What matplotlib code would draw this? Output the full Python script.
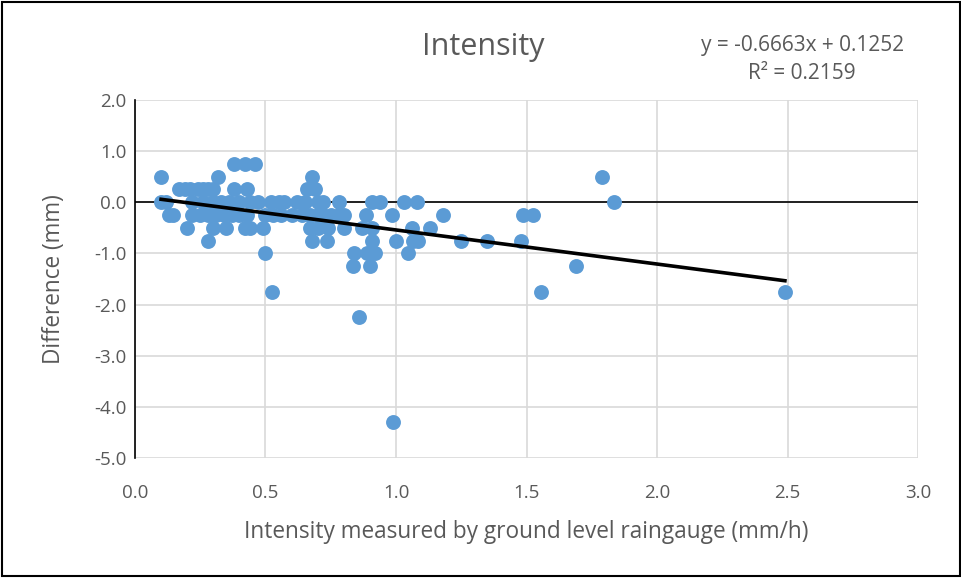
import matplotlib.pyplot as plt
from matplotlib.patches import Rectangle


# intensity (mm/h) and difference (mm)
x_075 = [0.38, 0.42, 0.46]
x_050 = [0.10, 0.32, 0.68, 1.79]
x_025 = [0.17, 0.19, 0.21, 0.24, 0.26, 0.28, 0.30, 0.38, 0.43, 0.66, 0.69]
x_000 = [0.10, 0.12, 0.22, 0.26, 0.30, 0.33, 0.36, 0.40, 0.44, 0.47, 0.52,
         0.55, 0.57, 0.62, 0.65, 0.70, 0.72, 0.78, 0.91, 0.94, 1.03, 1.08, 1.835]
x_m025 = [0.13, 0.145, 0.22, 0.25, 0.28, 0.31, 0.34, 0.37, 0.40, 0.43, 0.50,
          0.53, 0.56, 0.60, 0.64, 0.67, 0.70, 0.72, 0.75, 0.78, 0.80, 0.885,
          0.985, 1.18, 1.487, 1.525]
x_m050 = [0.20, 0.30, 0.35, 0.42, 0.44, 0.49, 0.67, 0.70, 0.74, 0.80, 0.87,
          0.91, 1.06, 1.13]
x_m075 = [0.28, 0.68, 0.735, 0.91, 1.00, 1.065, 1.085, 1.25, 1.35, 1.48]
x_m100 = [0.50, 0.84, 0.89, 0.92, 1.045]
x_m125 = [0.835, 0.90, 1.69]
x_m175 = [0.525, 1.555, 2.49]
x_m225 = [0.86]
x_m430 = [0.99]

rows = [(0.75, x_075), (0.5, x_050), (0.25, x_025), (0.0, x_000),
        (-0.25, x_m025), (-0.5, x_m050), (-0.75, x_m075), (-1.0, x_m100),
        (-1.25, x_m125), (-1.75, x_m175), (-2.25, x_m225), (-4.3, x_m430)]

intensity = []
difference = []
for level, xs in rows:
    intensity += xs
    difference += [level] * len(xs)

# trendline as printed on the chart
slope = -0.6663
intercept = 0.1252
r2 = 0.2159

x_ticks = [0.0, 0.5, 1.0, 1.5, 2.0, 2.5, 3.0]
y_ticks = [2.0, 1.0, 0.0, -1.0, -2.0, -3.0, -4.0, -5.0]

plt.rcParams['font.family'] = ['Open Sans', 'DejaVu Sans']
grey = '#595959'

fig = plt.figure(figsize=(9.62, 5.78), dpi=100)
ax = fig.add_axes([0.1403, 0.2076, 0.8140, 0.6194])

ax.grid(True, color='#D9D9D9', linewidth=1.2)
ax.set_axisbelow(True)
ax.axhline(0, color='black', linewidth=1.2, zorder=1)

ax.scatter(intensity, difference, s=115, color='#5B9BD5', zorder=3,
           linewidths=0)

x0, x1 = min(intensity), max(intensity)
ax.plot([x0, x1], [slope * x0 + intercept, slope * x1 + intercept],
        color='black', linewidth=2.6, zorder=4)

ax.set_xlim(0, 3)
ax.set_ylim(-5, 2)
ax.set_xticks(x_ticks)
ax.set_yticks(y_ticks)
ax.set_xticklabels([f"{v:.1f}" for v in x_ticks])
ax.set_yticklabels([f"{v:.1f}" for v in y_ticks])
ax.tick_params(length=0, labelsize=13.5, colors=grey)
ax.tick_params(axis='x', pad=19)
ax.tick_params(axis='y', pad=6)

for side in ['top', 'right', 'bottom']:
    ax.spines[side].set_visible(False)
ax.spines['left'].set_color('black')
ax.spines['left'].set_linewidth(1.2)

ax.set_xlabel("Intensity measured by ground level raingauge (mm/h)",
              fontsize=16.3, color=grey, labelpad=13)
ax.set_ylabel("Difference (mm)", fontsize=16.3, color=grey, labelpad=20)

fig.text(0.502, 0.918, "Intensity", fontsize=22, color=grey,
         ha='center', va='center')
fig.text(0.834, 0.922, f"y = {slope}x + {intercept}", fontsize=15,
         color=grey, ha='center', va='center')
fig.text(0.834, 0.873, f"R² = {r2}", fontsize=15, color=grey,
         ha='center', va='center')

fig.patches.append(Rectangle((0.002, 0.003), 0.996, 0.994,
                             transform=fig.transFigure, fill=False,
                             edgecolor='black', linewidth=1.5))

fig.savefig("out.png", dpi=100)
